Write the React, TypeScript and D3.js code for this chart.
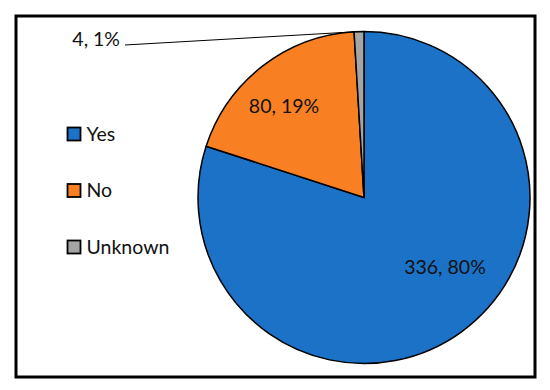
import React from "react";
import * as d3 from "d3";

const categories = ["Yes", "No", "Unknown"];
const values = [336, 80, 4];
const percents = ["80%", "19%", "1%"];
const colors = ["#1B72C6", "#F98022", "#A5A5A5"];

export default function App() {
  const W = 550, H = 390;
  const cx = 364, cy = 197.5, r = 166;
  const pie = d3.pie<number>().sort(null).value((d) => d)(values);
  const arc = d3.arc<d3.PieArcDatum<number>>().innerRadius(0).outerRadius(r);
  const font = "Lato, 'Open Sans', sans-serif";
  const fs = 19.5;
  const u = pie[2];
  const umid = (u.startAngle + u.endAngle) / 2;
  const uEdge: [number, number] = [cx + Math.sin(umid) * r, cy - Math.cos(umid) * r];
  const labelOffsets: [number, number][] = [[81, 76], [-80, -85]];
  return (
    <svg width={W} height={H} style={{ position: "absolute", left: 0, top: 0 }}>
      <rect x={0} y={0} width={W} height={H} fill="#fff" />
      <rect x={16} y={16} width={519} height={361} fill="#fff" stroke="#000" strokeWidth={3} />
      <g transform={`translate(${cx},${cy})`}>
        {pie.map((p, i) => (
          <path key={i} d={arc(p) || ""} fill={colors[i]} stroke="#000" strokeWidth={1.5} strokeLinejoin="round" />
        ))}
        {pie.slice(0, 2).map((p, i) => (
          <text
            key={i}
            x={labelOffsets[i][0]}
            y={labelOffsets[i][1]}
            textAnchor="middle"
            fontFamily={font}
            fontSize={fs}
            fill="#111"
          >
            {`${values[i]}, ${percents[i]}`}
          </text>
        ))}
      </g>
      <line x1={125} y1={45} x2={uEdge[0]} y2={uEdge[1]} stroke="#000" strokeWidth={1} />
      <text x={120} y={46} textAnchor="end" fontFamily={font} fontSize={fs} fill="#111">
        {`${values[2]}, ${percents[2]}`}
      </text>
      {categories.map((c, i) => (
        <g key={c} transform={`translate(67.5,${127.5 + i * 56.5})`}>
          <rect x={0} y={0} width={13} height={13} fill={colors[i]} stroke="#000" strokeWidth={1.8} />
          <text x={19} y={13} fontFamily={font} fontSize={fs} fill="#111">
            {c}
          </text>
        </g>
      ))}
    </svg>
  );
}
